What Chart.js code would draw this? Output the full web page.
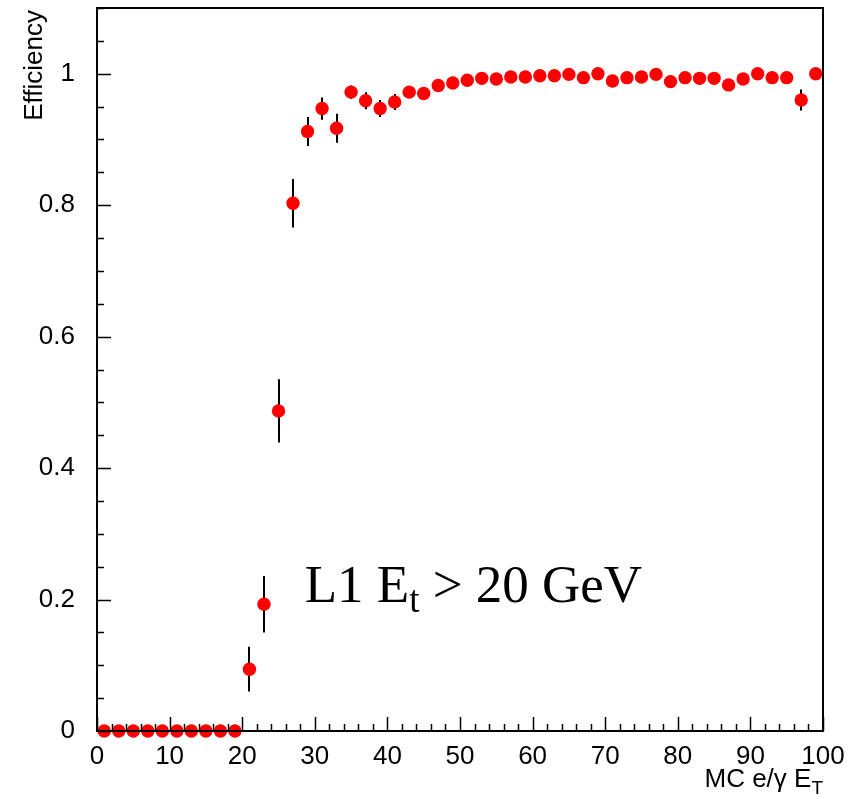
<!DOCTYPE html>
<html>
<head>
<meta charset="utf-8">
<script src="https://cdn.jsdelivr.net/npm/chart.js@4/dist/chart.umd.min.js"></script>
<style>
  html, body { margin: 0; padding: 0; background: #fff; }
  #wrap { width: 866px; height: 799px; position: relative; }
</style>
</head>
<body>
<div id="wrap"><canvas id="c" width="866" height="799"></canvas></div>
<script>
// ---- data ----
const xValues = [1,3,5,7,9,11,13,15,17,19,21,23,25,27,29,31,33,35,37,39,41,43,45,47,49,51,53,55,57,59,61,63,65,67,69,71,73,75,77,79,81,83,85,87,89,91,93,95,97,99];
const efficiency = [0,0,0,0,0,0,0,0,0,0,
  0.094,0.193,0.487,0.803,0.912,0.947,0.917,0.972,0.959,0.947,
  0.957,0.972,0.970,0.982,0.986,0.990,0.993,0.992,0.995,0.995,
  0.997,0.997,0.999,0.994,1.000,0.989,0.994,0.995,0.999,0.988,
  0.994,0.993,0.993,0.983,0.992,1.000,0.994,0.994,0.960,1.000];
const errors = [0,0,0,0,0,0,0,0,0,0,
  0.034,0.043,0.048,0.037,0.022,0.017,0.022,0.010,0.013,0.013,
  0.012,0.006,0.006,0.005,0.004,0.003,0.003,0.003,0.002,0.002,
  0.002,0.002,0.001,0.002,0.000,0.003,0.002,0.002,0.001,0.003,
  0.002,0.002,0.002,0.004,0.002,0.000,0.002,0.002,0.016,0.000];
const xTickLabels = [0,10,20,30,40,50,60,70,80,90,100];
const yTickLabels = [0,0.2,0.4,0.6,0.8,1];
const xMinorStep = 2;
const yMinorStep = 0.05;
const xTitle = "MC e/\u03B3 E";
const xTitleSub = "T";
const yTitle = "Efficiency";
const labelMain = "L1 E";
const labelSub = "t";
const labelRest = " > 20 GeV";

const sans = '"Liberation Sans", Arial, sans-serif';
const serif = '"Liberation Serif", "Times New Roman", serif';

const rootPlugin = {
  id: 'rootStyle',
  beforeDatasetsDraw(chart) {
    const ctx = chart.ctx;
    const xs = chart.scales.x, ys = chart.scales.y;
    ctx.save();
    ctx.strokeStyle = '#000';
    ctx.lineWidth = 2;
    for (let i = 0; i < xValues.length; i++) {
      const e = errors[i];
      if (e <= 0) continue;
      const px = Math.round(xs.getPixelForValue(xValues[i]));
      ctx.beginPath();
      ctx.moveTo(px, ys.getPixelForValue(efficiency[i] + e));
      ctx.lineTo(px, ys.getPixelForValue(efficiency[i] - e));
      ctx.stroke();
    }
    ctx.restore();
  },
  afterDraw(chart) {
    const ctx = chart.ctx;
    const xs = chart.scales.x, ys = chart.scales.y;
    const a = chart.chartArea;
    ctx.save();
    // frame
    ctx.strokeStyle = '#000';
    ctx.lineWidth = 2;
    ctx.strokeRect(a.left, a.top, a.right - a.left, a.bottom - a.top);
    // ticks
    ctx.lineWidth = 1.5;
    ctx.beginPath();
    for (let v = xs.min; v <= xs.max + 1e-9; v += xMinorStep) {
      const px = Math.round(xs.getPixelForValue(v)) + 0.5;
      const major = Math.abs(v / 10 - Math.round(v / 10)) < 1e-6;
      const len = major ? 14 : 7;
      ctx.moveTo(px, a.bottom);
      ctx.lineTo(px, a.bottom - len);
    }
    for (let v = ys.min; v <= ys.max + 1e-9; v += yMinorStep) {
      const py = Math.round(ys.getPixelForValue(v)) + 0.5;
      const major = Math.abs(v / 0.2 - Math.round(v / 0.2)) < 1e-6;
      const len = major ? 14 : 7;
      ctx.moveTo(a.left, py);
      ctx.lineTo(a.left + len, py);
    }
    ctx.stroke();

    // x axis title with subscript, right-aligned to plot right edge
    ctx.fillStyle = '#000';
    ctx.textBaseline = 'alphabetic';
    const mainFont = '26px ' + sans;
    const subFont = '19px ' + sans;
    ctx.font = mainFont;
    const mainW = ctx.measureText(xTitle).width;
    ctx.font = subFont;
    const subW = ctx.measureText(xTitleSub).width;
    const xEnd = a.right;
    const baseY = 787;
    ctx.font = mainFont;
    ctx.fillText(xTitle, xEnd - subW - mainW, baseY);
    ctx.font = subFont;
    ctx.fillText(xTitleSub, xEnd - subW, baseY + 7);

    // y axis title, rotated, aligned to top
    ctx.save();
    ctx.translate(42, a.top + 2);
    ctx.rotate(-Math.PI / 2);
    ctx.font = mainFont;
    ctx.textAlign = 'right';
    ctx.fillText(yTitle, 0, 0);
    ctx.restore();

    // in-plot label (serif, with subscript)
    const lx = xs.getPixelForValue(28.6);
    const ly = ys.getPixelForValue(0.196);
    ctx.font = '53px ' + serif;
    ctx.textAlign = 'left';
    ctx.fillText(labelMain, lx, ly);
    const w = ctx.measureText(labelMain).width;
    ctx.font = '37px ' + serif;
    ctx.fillText(labelSub, lx + w, ly + 10);
    const ws = ctx.measureText(labelSub).width;
    ctx.font = '53px ' + serif;
    ctx.fillText(labelRest, lx + w + ws, ly);
    ctx.restore();
  }
};

new Chart(document.getElementById('c'), {
  type: 'scatter',
  data: {
    datasets: [{
      data: xValues.map((x, i) => ({ x: x, y: efficiency[i] })),
      backgroundColor: '#ff0000',
      borderColor: '#ff0000',
      pointRadius: 6.7,
      pointHoverRadius: 6.7,
      borderWidth: 0,
      clip: false
    }]
  },
  options: {
    responsive: false,
    animation: false,
    devicePixelRatio: 1,
    layout: { padding: { top: 8, right: 43, left: 0, bottom: 0 } },
    plugins: { legend: { display: false }, tooltip: { enabled: false } },
    scales: {
      x: {
        type: 'linear',
        min: 0, max: 100,
        afterBuildTicks: s => { s.ticks = xTickLabels.map(v => ({ value: v })); },
        afterFit: s => { s.height = 68; s.paddingLeft = 0; s.paddingRight = 0; },
        grid: { display: false, drawTicks: false },
        border: { display: false },
        ticks: { color: '#000', font: { size: 26, family: sans }, padding: 10, maxRotation: 0, autoSkip: false }
      },
      y: {
        type: 'linear',
        min: 0, max: 1.1,
        afterBuildTicks: s => { s.ticks = yTickLabels.map(v => ({ value: v })); },
        afterFit: s => { s.width = 97; s.paddingTop = 0; s.paddingBottom = 0; },
        grid: { display: false, drawTicks: false },
        border: { display: false },
        ticks: { color: '#000', font: { size: 26, family: sans }, padding: 22, autoSkip: false,
                 callback: v => String(v) }
      }
    }
  },
  plugins: [rootPlugin]
});
</script>
</body>
</html>
